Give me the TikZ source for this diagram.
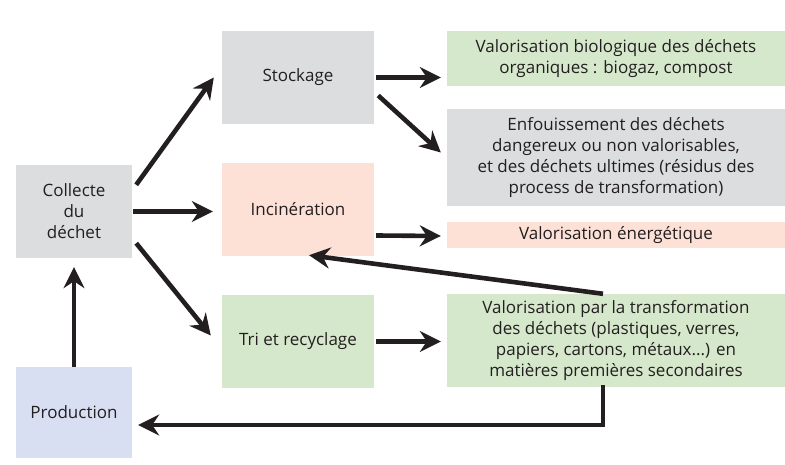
\documentclass[tikz,border=0pt]{standalone}
\usepackage{fontspec}
\setmainfont{Open Sans}
\usetikzlibrary{arrows.meta,calc}
\definecolor{ink}{HTML}{231F20}
\definecolor{gbox}{HTML}{DCDDDE}
\definecolor{pbox}{HTML}{FDE1D6}
\definecolor{vbox}{HTML}{D6E8CC}
\definecolor{lbox}{HTML}{D9DFF2}
\begin{document}
\begin{tikzpicture}[x=1pt,y=-1pt,
  box/.style={inner sep=0pt,align=center,text=ink,font=\fontsize{17}{21}\selectfont},
  arr/.style={draw=ink,line width=4.6pt,-{Stealth[length=21pt,width=21pt,inset=7pt]}},
  ln/.style={draw=ink,line width=4.6pt}]
\useasboundingbox (0,0) rectangle (785,465);
\node[box,fill=gbox,minimum width=116pt,minimum height=93pt] (collecte) at (74,211.5) {Collecte\\du\\déchet};
\node[box,fill=gbox,minimum width=152pt,minimum height=93pt] (stockage) at (298,77.5) {Stockage};
\node[box,fill=pbox,minimum width=152pt,minimum height=93pt] (incin) at (298,209.5) {Incinération};
\node[box,fill=vbox,minimum width=152pt,minimum height=93pt] (tri) at (298,341.5) {Tri et recyclage};
\node[box,fill=lbox,minimum width=116pt,minimum height=91pt] (production) at (74,412.5) {Production};
\node[box,fill=vbox,minimum width=338pt,minimum height=55pt] (bio) at (616,58.5) {Valorisation biologique des déchets\\organiques : biogaz, compost};
\node[box,fill=gbox,minimum width=338pt,minimum height=97pt] (enf) at (616,157.5) {Enfouissement des déchets\\dangereux ou non valorisables,\\et des déchets ultimes (résidus des\\process de transformation)};
\node[box,fill=pbox,minimum width=338pt,minimum height=26pt] (energ) at (616,235) {Valorisation énergétique};
\node[box,fill=vbox,minimum width=338pt,minimum height=93pt] (transfo) at (616,340.5) {Valorisation par la transformation\\des déchets (plastiques, verres,\\papiers, cartons, métaux...) en\\matières premières secondaires};
% arrows
\draw[arr] ($(collecte.north east)+(4,20)$) -- ($(stockage.west)+(-8,0)$);
\draw[arr] ($(collecte.east)+(1,0)$) -- ($(incin.west |- collecte.east)+(-9,0)$);
\draw[arr] ($(collecte.south east)+(4,-15)$) -- ($(tri.west)+(-11,-6)$);
\draw[arr] ($(stockage.east)+(2,0)$) -- ($(bio.west |- stockage.east)+(-6,0)$);
\draw[arr] ($(stockage.east)+(4,18)$) -- ($(enf.west)+(-6,-5)$);
\draw[arr] ($(incin.east)+(2,26)$) -- ($(energ.west)+(-6,1)$);
\draw[arr] ($(tri.east)+(2,0)$) -- ($(transfo.west |- tri.east)+(-6,0)$);
\draw[arr] ($(transfo.north)+(-13,0)$) -- ($(incin.south)+(11,-1)$);
\draw[arr] (production.north) -- ($(collecte.south)+(0,9)$);
\draw[arr] ($(transfo.south)+(-13,-2)$) |- ($(production.east)+(6,12.5)$);
\end{tikzpicture}
\end{document}
